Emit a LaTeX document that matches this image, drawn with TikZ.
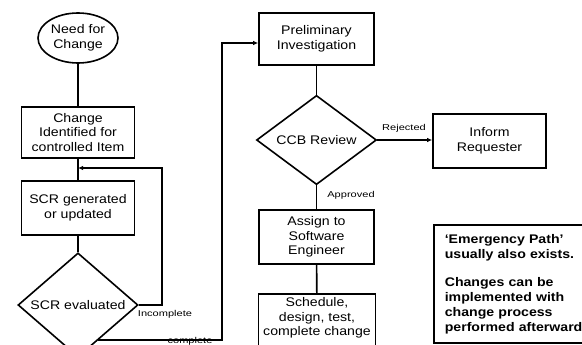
\documentclass[tikz,border=0pt]{standalone}
\usepackage{fontspec}
\setmainfont{Liberation Sans}[FakeStretch=1.13]
\newfontfamily\lblfont{Liberation Sans}[FakeStretch=1.3]
\usetikzlibrary{shapes.geometric,arrows.meta,calc}
\begin{document}
\begin{tikzpicture}[x=1pt,y=-1pt,
  line width=1.6pt,
  every node/.style={font=\fontsize{12.5}{14.5}\selectfont},
  box/.style={draw,rectangle,align=center,inner sep=2pt},
  dec/.style={draw,diamond,align=center,inner sep=0pt},
  term/.style={draw,ellipse,align=center,inner sep=0pt},
  lbl/.style={font=\lblfont\fontsize{8.5}{10}\selectfont,inner sep=0pt},
  arr/.style={-{Latex[length=5pt,width=4.5pt]}},
  conn/.style={line width=1.6pt}]
\path[use as bounding box,clip] (0,0) rectangle (582,345);
\fill[white] (0,0) rectangle (582,345);

% left column
\node[term,minimum width=80pt,minimum height=50pt] (need) at (78,38) {Need for\\Change};
\node[box,minimum width=113pt,minimum height=51pt] (chg) at (78,132.5) {Change\\Identified for\\controlled Item};
\node[box,minimum width=113pt,minimum height=54pt] (scr) at (78,208) {SCR generated\\or updated};
\node[dec,minimum width=120pt,minimum height=84pt] (eval) at (78,305) {SCR evaluated};

% middle column
\node[box,minimum width=115pt,minimum height=52pt] (prelim) at (316.5,39) {Preliminary\\Investigation};
\node[dec,minimum width=120pt,minimum height=84pt] (ccb) at (316.5,140) {CCB Review};
\node[box,minimum width=115pt,minimum height=54pt] (assign) at (316.5,237) {Assign to\\Software\\Engineer};
\node[box,minimum width=117pt,minimum height=70pt,anchor=north] (sched) at (317,293) {};
\node[align=center,inner sep=0pt] (schedtxt) at (317,318) {Schedule,\\design, test,\\complete change};

% right column
\node[box,minimum width=113pt,minimum height=54pt] (inform) at (489.5,141) {Inform\\Requester};
\node[draw,anchor=north west,minimum width=170pt,minimum height=118pt,
      align=left,text width=150pt,inner xsep=11pt,
      font=\bfseries\fontsize{12.5}{15}\selectfont] (note) at (433,224)
  {`Emergency Path'\\usually also exists.\\[13pt]Changes can be\\implemented with\\change process\\performed afterward};

% connectors
\draw[conn] (need) -- (chg);
\draw[conn] (chg) -- (scr);
\draw[conn] (scr) -- (eval);

\coordinate (loopturn) at (162,168);
\coordinate (loopend) at (78,168);
\draw[conn,arr] (eval.east) -| (loopturn) -- (loopend);
\node[lbl] (incl) at (165,314) {Incomplete};

\coordinate (cstart) at ($(eval.east)!0.667!(eval.south)$);
\coordinate (cturn) at (222,43);
\draw[conn,arr] (cstart) -| (cturn) -- (cturn -| prelim.west);
\node[lbl] (compl) at (190,341) {complete};

\draw[conn] (prelim) -- (ccb);
\draw[conn,arr] (ccb.east) -- (ccb.east -| inform.west);
\node[lbl] (rejl) at (404,128) {Rejected};
\draw[conn] (ccb) -- (assign);
\node[lbl] (appl) at (351,195) {Approved};
\draw[conn] (assign) -- (sched);
\end{tikzpicture}
\end{document}
